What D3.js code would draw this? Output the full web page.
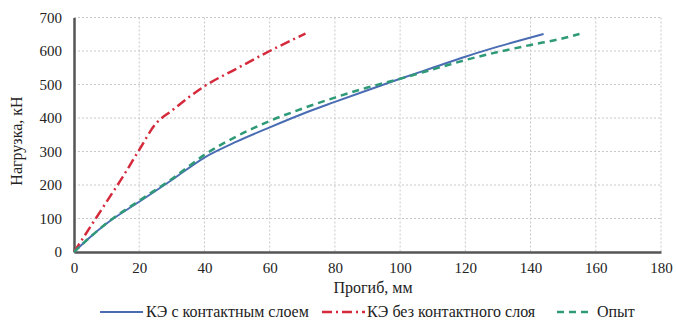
<!DOCTYPE html>
<html>
<head>
<meta charset="utf-8">
<script src="https://cdn.jsdelivr.net/npm/d3@7"></script>
<style>
  body { margin: 0; background: #fff; }
  svg, svg text { font-family: 'Times New Roman', 'Liberation Serif', Times, serif; }
</style>
</head>
<body>
<script>
// data (deflection mm, load kN)
const contactX = [0, 5, 10, 20, 30, 40, 50, 60, 70, 80, 90, 100, 110, 120, 130, 144]
const contactY = [0, 45, 85, 150, 215, 282, 330, 372, 412, 448, 483, 517, 550, 583, 613, 651]
const noContactX = [0, 5, 10, 15, 20, 25, 30, 40, 50, 60, 71]
const noContactY = [0, 75, 150, 225, 305, 382, 422, 495, 548, 600, 652]
const testX = [0, 5, 10, 20, 30, 40, 50, 60, 70, 80, 90, 100, 110, 120, 130, 140, 150, 155]
const testY = [0, 45, 86, 153, 218, 290, 346, 391, 428, 461, 491, 517, 545, 573, 597, 618, 638, 651]
const xTicks = [0, 20, 40, 60, 80, 100, 120, 140, 160, 180]
const yTicks = [0, 100, 200, 300, 400, 500, 600, 700]
const names = ['КЭ с контактным слоем', 'КЭ без контактного слоя', 'Опыт']

const width = 676, height = 320
const plotL = 74, plotR = 661, plotT = 17.5, plotB = 252
const serif = "'Times New Roman'"

const svg = d3.select('body').append('svg')
  .attr('width', width)
  .attr('height', height)

const x = d3.scaleLinear().domain([0, 180]).range([plotL, plotR])
const y = d3.scaleLinear().domain([0, 700]).range([plotB, plotT])

// grid
svg.append('g').selectAll('line')
  .data(yTicks.slice(1))
  .enter().append('line')
  .attr('x1', plotL).attr('x2', plotR)
  .attr('y1', d => y(d)).attr('y2', d => y(d))
  .attr('stroke', '#c8c8c8').attr('stroke-dasharray', '2,2')
svg.append('g').selectAll('line')
  .data(xTicks.slice(1))
  .enter().append('line')
  .attr('y1', plotT).attr('y2', plotB)
  .attr('x1', d => x(d)).attr('x2', d => x(d))
  .attr('stroke', '#c8c8c8').attr('stroke-dasharray', '2,2')

// axes
const xAxis = svg.append('g')
  .attr('transform', `translate(0,${plotB})`)
  .call(d3.axisBottom(x).tickValues(xTicks).tickSize(0).tickPadding(10))
const yAxis = svg.append('g')
  .attr('transform', `translate(${plotL},0)`)
  .call(d3.axisLeft(y).tickValues(yTicks).tickSize(0).tickPadding(12))
;[xAxis, yAxis].forEach(a => {
  a.attr('font-family', null).attr('font-size', null)
  a.select('.domain').attr('stroke', '#555').attr('stroke-width', 2.5)
  a.selectAll('text').attr('fill', '#222')
    .style('font-family', serif).style('font-size', '15px')
})

const line = d3.line().x(d => x(d[0])).y(d => y(d[1])).curve(d3.curveMonotoneX)
const series = [
  { xs: contactX, ys: contactY, color: '#4a6cb3', dash: null, w: 2 },
  { xs: noContactX, ys: noContactY, color: '#d42a3c', dash: '10,4,2,4', w: 2.5 },
  { xs: testX, ys: testY, color: '#2f9a78', dash: '7,5', w: 2.5 }
]
series.forEach(s => {
  svg.append('path')
    .datum(s.xs.map((v, i) => [v, s.ys[i]]))
    .attr('fill', 'none')
    .attr('stroke', s.color)
    .attr('stroke-width', s.w)
    .attr('stroke-dasharray', s.dash)
    .attr('d', line)
})

// axis titles
svg.append('text')
  .attr('x', 373).attr('y', 293)
  .attr('text-anchor', 'middle')
  .attr('fill', '#222')
  .style('font-family', serif).style('font-size', '16px')
  .text('Прогиб, мм')
svg.append('text')
  .attr('transform', 'translate(22,141) rotate(-90)')
  .attr('text-anchor', 'middle')
  .attr('fill', '#222')
  .style('font-family', serif).style('font-size', '16px')
  .text('Нагрузка, кН')

// legend
const legX = [100, 322, 557], legLen = [43, 43, 31], legTx = [146, 367, 597]
series.forEach((s, i) => {
  svg.append('line')
    .attr('x1', legX[i]).attr('x2', legX[i] + legLen[i])
    .attr('y1', 312).attr('y2', 312)
    .attr('stroke', s.color).attr('stroke-width', s.w)
    .attr('stroke-dasharray', s.dash)
  svg.append('text')
    .attr('x', legTx[i]).attr('y', 317)
    .attr('fill', '#222')
    .style('font-family', serif).style('font-size', '16px')
    .text(names[i])
})
</script>
</body>
</html>
